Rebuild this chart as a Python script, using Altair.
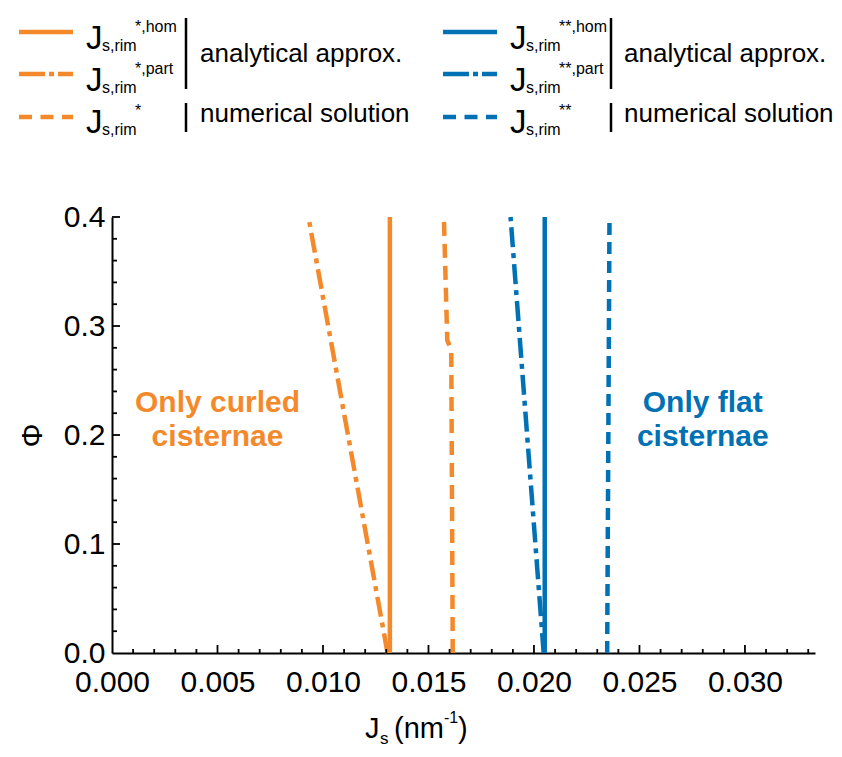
import altair as alt
import pandas as pd

ORANGE = "#F4892B"
BLUE = "#0071B4"
FONT = "Liberation Sans"

# ---- data ----
phi_two = [0.0, 0.4]
hom_o_js = [0.01317, 0.01317]
part_o_js = [0.01306, 0.00931]
num_o_phi = [0.0, 0.278, 0.287, 0.4]
num_o_js = [0.01615, 0.01608, 0.01589, 0.01573]
hom_b_js = [0.02051, 0.02051]
part_b_js = [0.02046, 0.01889]
num_b_js = [0.02347, 0.02358]

x_labels = [0.0, 0.005, 0.010, 0.015, 0.020, 0.025, 0.030]
y_labels = [0.0, 0.1, 0.2, 0.3, 0.4]
x_minor = [i / 1000 for i in range(1, 34) if i % 5]
x_major = [0.005, 0.010, 0.015, 0.020, 0.025, 0.030]
y_minor = [0.02, 0.04, 0.06, 0.08, 0.12, 0.14, 0.16, 0.18, 0.22, 0.24, 0.26, 0.28, 0.32, 0.34, 0.36, 0.38]
y_major = [0.1, 0.2, 0.3, 0.4]

ann_text = ["Only curled", "cisternae", "Only flat", "cisternae"]
ann_x = [0.0050, 0.0050, 0.0280, 0.0280]
ann_y = [0.221, 0.190, 0.221, 0.190]
ann_group = ["o", "o", "b", "b"]

leg_sup_o = ["*,hom", "*,part", "*"]
leg_sup_b = ["**,hom", "**,part", "**"]
leg_text = ["analytical approx.", "numerical solution"]

W, H = 703, 436
xs = alt.Scale(domain=[0, 0.03332], nice=False, zero=False)
ys = alt.Scale(domain=[0, 0.4], nice=False, zero=False)

xaxis = alt.Axis(values=x_labels, format=".3f", ticks=False, tickSize=0, grid=False,
                 labelFont=FONT, labelFontSize=30, labelColor="black", labelPadding=14,
                 domainColor="black", domainWidth=2, title=None, labelFlush=False)
yaxis = alt.Axis(values=y_labels, format=".1f", ticks=False, tickSize=0, grid=False,
                 labelFont=FONT, labelFontSize=30, labelColor="black", labelPadding=7,
                 domainColor="black", domainWidth=2, title="Φ", titleFont=FONT,
                 titleFontSize=30, titleFontWeight="normal", titleColor="black",
                 titleX=-80, titleY=218, titleBaseline="middle", titleAlign="center",
                 labelFlush=False)


def X(f):
    return alt.X(f, type="quantitative", scale=xs, axis=xaxis)


def Y(f):
    return alt.Y(f, type="quantitative", scale=ys, axis=yaxis)


def series(js, phi, color, dash=None):
    df = pd.DataFrame({"js": js, "phi": phi})
    kw = dict(color=color, strokeWidth=4.5)
    if dash:
        kw["strokeDash"] = dash
    return alt.Chart(df).mark_line(**kw).encode(x=X("js"), y=Y("phi"), order="phi:Q")


DD = [20, 6, 5, 6]
DS = [14, 8]

layers = []
layers.append(series(hom_o_js, phi_two, ORANGE))
layers.append(series(part_o_js, phi_two, ORANGE, DD))
layers.append(series(num_o_js, num_o_phi, ORANGE, DS))
layers.append(series(part_b_js, phi_two, BLUE, DD))
layers.append(series(hom_b_js, phi_two, BLUE))
layers.append(series(num_b_js, phi_two, BLUE, [12, 7]))


# inward ticks
def xticks(vals, length):
    return alt.Chart(pd.DataFrame({"v": vals})).mark_rule(color="black", strokeWidth=1.8).encode(
        x=X("v"), y=alt.value(H), y2=alt.value(H - length))


def yticks(vals, length):
    return alt.Chart(pd.DataFrame({"v": vals})).mark_rule(color="black", strokeWidth=1.8).encode(
        y=Y("v"), x=alt.value(0), x2=alt.value(length))


layers += [xticks(x_minor, 4), xticks(x_major, 8), yticks(y_minor, 5), yticks(y_major, 8)]

ann = pd.DataFrame({"t": ann_text, "x": ann_x, "y": ann_y, "g": ann_group})
layers.append(alt.Chart(ann).mark_text(font=FONT, fontSize=30, fontWeight="bold", align="center",
                                       baseline="alphabetic").encode(
    x=X("x"), y=Y("y"), text="t:N",
    color=alt.Color("g:N", scale=alt.Scale(domain=["o", "b"], range=[ORANGE, BLUE]), legend=None)))

dummy = pd.DataFrame({"d": [0]})


def txt(s, x, y, size, color="black", weight="normal", align="left"):
    return alt.Chart(dummy).mark_text(font=FONT, fontSize=size, color=color, fontWeight=weight,
                                      align=align, baseline="alphabetic").encode(
        x=alt.value(x), y=alt.value(y), text=alt.value(s))


def hline(x1, x2, y, color, dash=None, width=4.5):
    kw = dict(color=color, strokeWidth=width)
    if dash:
        kw["strokeDash"] = dash
    return alt.Chart(dummy).mark_rule(**kw).encode(x=alt.value(x1), x2=alt.value(x2), y=alt.value(y))


def vline(x, y1, y2, width=2.5):
    return alt.Chart(dummy).mark_rule(color="black", strokeWidth=width).encode(
        x=alt.value(x), y=alt.value(y1), y2=alt.value(y2))


row_line_y = [-185, -143, -100]
row_j_y = [-168, -126, -84]
row_sub_y = [-166, -124, -82]
row_sup_y = [-185, -143, -101]
dashes = [None, [26, 4, 5, 4], [13, 8.5]]

for off, color, sups in [(0, ORANGE, leg_sup_o), (424, BLUE, leg_sup_b)]:
    for i in range(3):
        layers.append(hline(-93 + off, -39 + off, row_line_y[i], color, dashes[i]))
        layers.append(txt("J", -26 + off, row_j_y[i], 33))
        layers.append(txt("s,rim", -10 + off, row_sub_y[i], 16))
        layers.append(txt(sups[i], 23 + off, row_sup_y[i], 16))
    bx = 74 + off + (1 if off else 0)
    layers.append(vline(bx, -199, -128))
    layers.append(vline(bx, -114, -85))
    layers.append(txt(leg_text[0], 88 + off, -155, 26))
    layers.append(txt(leg_text[1], 88 + off, -95, 26))

# x axis title pieces
layers.append(txt("J", 253, 521, 29))
layers.append(txt("s", 268, 527, 17))
layers.append(txt("(nm", 282, 521, 29))
layers.append(txt("-1", 332, 506, 16))
layers.append(txt(")", 346, 521, 29))

chart = alt.layer(*layers).properties(
    width=W, height=H,
    autosize=alt.AutoSizeParams(type="none"),
    padding={"left": 104, "top": 209, "right": 19, "bottom": 96},
    background="white",
).configure_view(stroke=None)

chart.save("out.html", embed_options={"renderer": "svg", "actions": False})
